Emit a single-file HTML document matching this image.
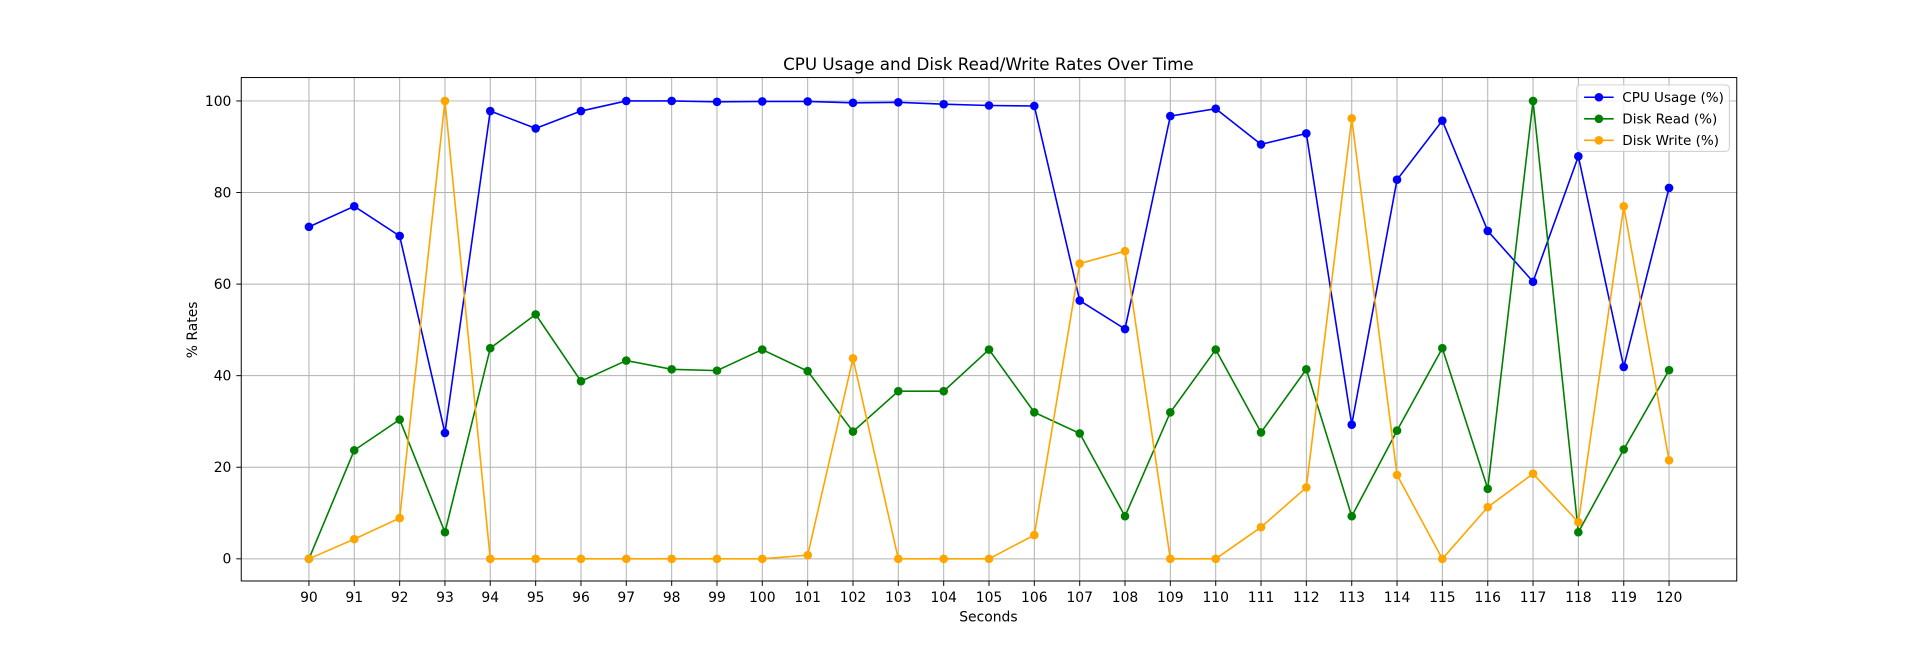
<!DOCTYPE html>
<html><head><meta charset="utf-8"><style>
body{margin:0;background:#fff}
text{font-family:"DejaVu Sans","Liberation Sans",sans-serif;fill:#000}
</style></head><body>
<svg id="s" width="1930" height="653" viewBox="0 0 1568 530.5" xmlns="http://www.w3.org/2000/svg"></svg>
<script>
const s=document.getElementById('s');
const X0=251,XS=(1356-251)/30,Y0=454,YS=3.72;
const px=x=>X0+(x-90)*XS, py=y=>Y0-y*YS;
let h='<rect x="0" y="0" width="1568" height="531" fill="#fff"/>';
for(let x=90;x<=120;x++){const X=px(x).toFixed(1);
h+=`<line x1="${X}" y1="63" x2="${X}" y2="472" stroke="#b0b0b0" stroke-width="0.8"/>`;
h+=`<line x1="${X}" y1="472" x2="${X}" y2="476" stroke="#000" stroke-width="0.8"/>`;
h+=`<text x="${X}" y="489" font-size="11.3" text-anchor="middle">${x}</text>`;}
for(let y=0;y<=100;y+=20){const Y=py(y).toFixed(1);
h+=`<line x1="196" y1="${Y}" x2="1411" y2="${Y}" stroke="#b0b0b0" stroke-width="0.8"/>`;
h+=`<line x1="192" y1="${Y}" x2="196" y2="${Y}" stroke="#000" stroke-width="0.8"/>`;
h+=`<text x="188" y="${(+Y+4).toFixed(1)}" font-size="11.3" text-anchor="end">${y}</text>`;}
const cpu=[72.5,77,70.5,27.5,97.8,94,97.8,100,100,99.8,99.9,99.9,99.6,99.7,99.3,99,98.9,56.4,50.2,96.7,98.3,90.5,92.9,29.3,82.8,95.7,71.6,60.5,87.9,41.9,81];
const rd=[0,23.7,30.4,5.8,46,53.4,38.8,43.3,41.4,41.1,45.7,41,27.8,36.6,36.6,45.7,32,27.4,9.3,32,45.7,27.6,41.4,9.3,28,46,15.3,100,5.8,23.9,41.2];
const wr=[0,4.3,8.9,100,0,0,0,0,0,0,0,0.8,43.8,0,0,0,5.2,64.5,67.2,0,0,6.9,15.6,96.2,18.3,0,11.3,18.6,8,77,21.5];
function ser(d,c){let p=d.map((v,i)=>px(90+i).toFixed(1)+','+py(v).toFixed(1)).join(' ');
h+=`<polyline points="${p}" fill="none" stroke="${c}" stroke-width="1.3"/>`;
d.forEach((v,i)=>h+=`<circle cx="${px(90+i).toFixed(1)}" cy="${py(v).toFixed(1)}" r="3.5" fill="${c}"/>`);}
ser(cpu,'#0000ff');ser(rd,'#008000');ser(wr,'#ffa500');
h+='<rect x="196" y="63" width="1215" height="409" fill="none" stroke="#000" stroke-width="0.8"/>';
h+='<text x="803" y="57" font-size="13.6" text-anchor="middle">CPU Usage and Disk Read/Write Rates Over Time</text>';
h+='<text x="803" y="505" font-size="11.3" text-anchor="middle">Seconds</text>';
h+='<text transform="translate(160,268) rotate(-90)" font-size="11.3" text-anchor="middle">% Rates</text>';
h+='<rect x="1281" y="69" width="124" height="54" rx="3" fill="#fff" fill-opacity="0.8" stroke="#ccc" stroke-width="0.8"/>';
[['CPU Usage (%)','#0000ff'],['Disk Read (%)','#008000'],['Disk Write (%)','#ffa500']].forEach((l,i)=>{const y=79+i*17.5;
h+=`<line x1="1287" y1="${y}" x2="1311" y2="${y}" stroke="${l[1]}" stroke-width="1.3"/><circle cx="1299" cy="${y}" r="3.5" fill="${l[1]}"/>`;
h+=`<text x="1318" y="${y+4}" font-size="11">${l[0]}</text>`;});
s.innerHTML=h;
</script>
</body></html>
